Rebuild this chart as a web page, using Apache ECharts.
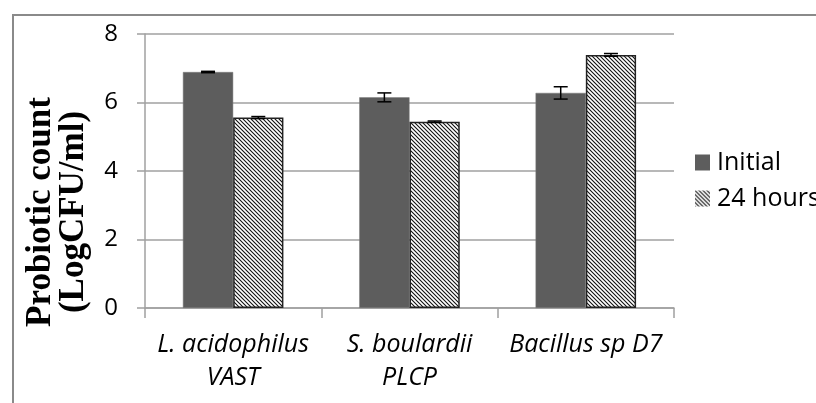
<!DOCTYPE html>
<html><head><meta charset="utf-8">
<script src="https://cdn.jsdelivr.net/npm/echarts@6/dist/echarts.min.js"></script>
<style>html,body{margin:0;padding:0;background:#fff}#c{width:816px;height:403px}</style>
</head><body><div id="c"></div>
<script>
var categories = ['L. acidophilus\nVAST', 'S. boulardii\nPLCP', 'Bacillus sp D7'];
var seriesNames = ['Initial', '24 hours'];
var initialValues = [6.89, 6.15, 6.28];
var initialErrors = [0.02, 0.13, 0.18];
var hoursValues = [5.56, 5.44, 7.39];
var hoursErrors = [0.03, 0.02, 0.04];
var yTicks = [0, 2, 4, 6, 8];

function hatch() {
  var s = 4, c = document.createElement('canvas');
  c.width = s; c.height = s;
  var g = c.getContext('2d');
  g.fillStyle = '#fff'; g.fillRect(0, 0, s, s);
  g.strokeStyle = '#111'; g.lineWidth = 1.1;
  g.beginPath();
  g.moveTo(-1, -1); g.lineTo(s + 1, s + 1);
  g.moveTo(-1, s - 1); g.lineTo(1, s + 1);
  g.moveTo(s - 1, -1); g.lineTo(s + 1, 1);
  g.stroke();
  return c;
}
var pattern = { image: hatch(), repeat: 'repeat' };

function errSeries(values, errors, idx) {
  return {
    type: 'custom', z: 10, silent: true,
    data: values.map(function (v, i) { return [i, v - errors[i], v + errors[i]]; }),
    renderItem: function (params, api) {
      var lo = api.coord([api.value(0), api.value(1)]);
      var hi = api.coord([api.value(0), api.value(2)]);
      var bw = api.size([1, 0])[0];
      var barW = bw * 0.285;
      var x = lo[0] + (idx === 0 ? -barW / 2 : barW / 2);
      var cw = 7;
      var st = { stroke: '#000', lineWidth: 1.5 };
      return { type: 'group', children: [
        { type: 'line', shape: { x1: x, y1: lo[1], x2: x, y2: hi[1] }, style: st },
        { type: 'line', shape: { x1: x - cw, y1: lo[1], x2: x + cw, y2: lo[1] }, style: st },
        { type: 'line', shape: { x1: x - cw, y1: hi[1], x2: x + cw, y2: hi[1] }, style: st }
      ]};
    }
  };
}

var chart = echarts.init(document.getElementById('c'), null, { renderer: 'canvas' });
chart.setOption({
  animation: false,
  backgroundColor: '#fff',
  grid: { left: 145, right: 142, top: 34, bottom: 95, containLabel: false },
  graphic: [
    { type: 'rect', shape: { x: 13, y: 15, width: 900, height: 500 }, style: { fill: 'none', stroke: '#8a8a8a', lineWidth: 2 }, z: -1 },
    { type: 'text', x: 57, y: 212, rotation: Math.PI / 2, style: {
      text: 'Probiotic count\n(LogCFU/ml)', fill: '#000', align: 'center', verticalAlign: 'middle',
      font: 'bold 35px "Liberation Serif", "Times New Roman", serif', lineHeight: 33 } }
  ],
  legend: {
    orient: 'vertical', left: 690, top: 145, itemWidth: 15, itemHeight: 16, itemGap: 11,
    icon: 'rect',
    itemStyle: { borderWidth: 0 },
    textStyle: { fontFamily: '"Open Sans", sans-serif', fontSize: 25, color: '#000', padding: [0, 0, 0, 2] },
    data: seriesNames
  },
  xAxis: {
    type: 'category', data: categories,
    axisLine: { lineStyle: { color: '#a0a0a0', width: 1.5 } },
    axisTick: { show: true, length: 10, lineStyle: { color: '#a0a0a0', width: 1.5 } },
    axisLabel: { color: '#000', fontFamily: '"Open Sans", sans-serif', fontStyle: 'italic', fontSize: 25, lineHeight: 33, margin: 20, interval: 0 }
  },
  yAxis: {
    type: 'value', min: yTicks[0], max: yTicks[yTicks.length - 1], interval: 2,
    axisLine: { show: true, lineStyle: { color: '#a0a0a0', width: 1.5 } },
    axisTick: { show: true, length: 8, lineStyle: { color: '#a0a0a0', width: 1.5 } },
    splitLine: { lineStyle: { color: '#a0a0a0', width: 1.5 } },
    axisLabel: { color: '#000', fontFamily: '"Open Sans", sans-serif', fontSize: 24, margin: 27 }
  },
  series: [
    { name: seriesNames[0], type: 'bar', data: initialValues, barWidth: '28.5%', barGap: '0%',
      itemStyle: { color: '#5d5d5d', borderColor: '#7a7a7a', borderWidth: 0.5 } },
    { name: seriesNames[1], type: 'bar', data: hoursValues, barWidth: '28.5%', barGap: '0%',
      itemStyle: { color: pattern, borderColor: '#222', borderWidth: 1.5 } },
    errSeries(initialValues, initialErrors, 0),
    errSeries(hoursValues, hoursErrors, 1)
  ]
});
</script></body></html>
